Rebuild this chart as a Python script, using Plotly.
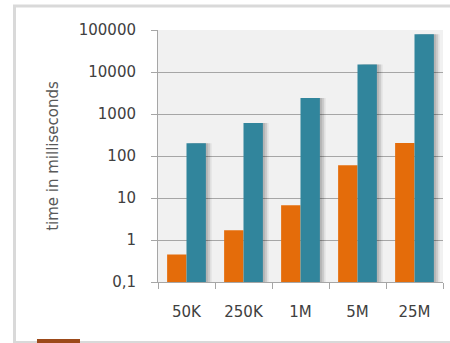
import plotly.graph_objects as go

# Dataset sizes and timings (ms), log-scale comparison
categories = ["50K", "250K", "1M", "5M", "25M"]
fast_ms = [0.45, 1.7, 6.7, 60, 205]
slow_ms = [200, 610, 2400, 15000, 79000]

y_tickvals = [0.1, 1, 10, 100, 1000, 10000, 100000]
y_ticktext = ["0,1", "1", "10", "100", "1000", "10000", "100000"]

ORANGE = "#E46C0A"
TEAL = "#31859C"
GRID = "#a6a6a6"
BAR_W = 0.34

fig = go.Figure()

# soft drop shadow to the right of the teal bars
for shift, alpha in [(0.035, 0.10), (0.07, 0.10), (0.10, 0.07)]:
    fig.add_trace(go.Bar(
        x=categories, y=slow_ms, width=BAR_W, offset=shift,
        marker=dict(color=f"rgba(0,0,0,{alpha})", line=dict(width=0)),
        showlegend=False, hoverinfo="skip",
    ))

fig.add_trace(go.Bar(
    x=categories, y=fast_ms, width=BAR_W, offset=-BAR_W,
    marker=dict(color=ORANGE, line=dict(width=0)), showlegend=False,
))
fig.add_trace(go.Bar(
    x=categories, y=slow_ms, width=BAR_W, offset=0,
    marker=dict(color=TEAL, line=dict(width=0)), showlegend=False,
))

# outer frame and a swatch peeking in at the bottom edge
frame_shapes = [
    dict(type="rect", xref="paper", yref="paper", x0=-0.5035, x1=1.2, y0=-0.24, y1=1.095,
         line=dict(color="#d9d9d9", width=3), fillcolor="rgba(0,0,0,0)", layer="below"),
    dict(type="rect", xref="paper", yref="paper", x0=-0.4246, x1=-0.2737, y0=-0.27, y1=-0.226,
         line=dict(width=0), fillcolor="#9C4A1A"),
]

fig.update_layout(
    width=450, height=343,
    margin=dict(l=158, r=7, t=30, b=61),
    paper_bgcolor="white",
    plot_bgcolor="#f1f1f1",
    barmode="overlay",
    font=dict(family="DejaVu Sans", size=14, color="#404040"),
    shapes=frame_shapes,
    xaxis=dict(
        type="category",
        tickson="boundaries",
        ticks="outside", ticklen=6, tickcolor=GRID,
        showline=True, linecolor=GRID, linewidth=1,
        showgrid=False,
        tickfont=dict(size=15, color="#404040"),
        ticklabelstandoff=16,
    ),
    yaxis=dict(
        type="log",
        range=[-1, 5],
        tickvals=y_tickvals, ticktext=y_ticktext,
        ticks="outside", ticklen=6, tickcolor=GRID,
        showline=True, linecolor=GRID, linewidth=1,
        showgrid=True, gridcolor=GRID, gridwidth=1,
        zeroline=False,
        tickfont=dict(size=15, color="#404040"),
        ticklabelstandoff=12,
        title=dict(text="time in milliseconds", font=dict(size=15, color="#595959"), standoff=16),
    ),
)

fig.write_html("out.html")
